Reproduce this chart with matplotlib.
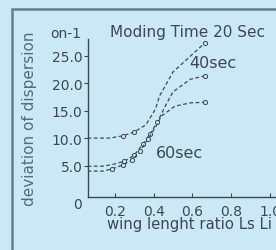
import matplotlib
matplotlib.use("Agg")
import matplotlib.pyplot as plt
from matplotlib.patches import Rectangle

# data
ratio_20 = [0.06, 0.175, 0.24, 0.30, 0.36, 0.41, 0.43, 0.50, 0.59, 0.665]
dev_20 = [10.0, 10.0, 10.4, 11.1, 12.4, 15.3, 17.6, 22.0, 24.9, 27.3]

ratio_40 = [0.06, 0.14, 0.20, 0.25, 0.30, 0.345, 0.38, 0.42, 0.46, 0.50, 0.59, 0.665]
dev_40 = [4.9, 4.9, 5.3, 5.8, 6.9, 8.9, 10.7, 12.9, 15.8, 18.4, 20.7, 21.3]

ratio_60 = [0.06, 0.14, 0.185, 0.24, 0.29, 0.33, 0.37, 0.41, 0.44, 0.51, 0.59, 0.665]
dev_60 = [4.0, 4.0, 4.4, 5.1, 6.0, 7.6, 9.8, 12.0, 14.0, 15.8, 16.4, 16.5]

x_ticks = [0.2, 0.4, 0.6, 0.8, 1.0]
y_ticks = [5, 10, 15, 20, 25]

BG = '#cbe8f7'
INK = '#3b4853'
W, H = 276, 251


def fx(px):
    return px / W


def fy(py):
    return 1 - py / H


plt.rcParams['font.family'] = ['DejaVu Sans']
fig = plt.figure(figsize=(2.76, 2.51), dpi=100, facecolor=BG)

# outer frame
fig.patches.append(Rectangle((fx(12), fy(262)), fx(280) - fx(12), fy(10) - fy(262),
                             transform=fig.transFigure, fill=False,
                             edgecolor='#667e8e', linewidth=1.8))

ax = fig.add_axes([fx(88), fy(198), 1 - fx(88), fy(40) - fy(198)])
ax.patch.set_alpha(0)

line_kw = dict(color=INK, linestyle=(0, (3, 2)), linewidth=0.9,
               marker='o', markersize=3, markerfacecolor=BG,
               markeredgecolor=INK, markeredgewidth=0.7)
ax.plot(ratio_20, dev_20, markevery=[2, 3, 9], **line_kw)
ax.plot(ratio_40, dev_40, markevery=[3, 4, 5, 6, 7, 11], **line_kw)
ax.plot(ratio_60, dev_60, markevery=[2, 3, 4, 5, 6, 11], **line_kw)

ax.set_xlim(0.062, 1.031)
ax.set_ylim(-0.7, 28)
ax.set_xticks(x_ticks)
ax.set_xticklabels([f"{v:.1f}" for v in x_ticks])
ax.set_yticks(y_ticks)
ax.set_yticklabels([f"{v:.1f}" for v in y_ticks])

for s in ['top', 'right']:
    ax.spines[s].set_visible(False)
for s in ['left', 'bottom']:
    ax.spines[s].set_color(INK)
    ax.spines[s].set_linewidth(1.0)

ax.tick_params(axis='y', direction='out', length=3, width=0.8, pad=1,
               colors=INK, labelsize=10)
ax.tick_params(axis='x', direction='in', length=3, width=0.8, pad=5,
               colors=INK, labelsize=10)

txt = dict(color=INK, ha='center', va='center')
fig.text(fx(77), fy(205), '0', fontsize=10, **txt)
fig.text(fx(66), fy(34), 'on-1', fontsize=10, **txt)
fig.text(fx(187), fy(33), 'Moding Time 20 Sec', fontsize=11, **txt)
fig.text(fx(213), fy(63), '40sec', fontsize=11.5, **txt)
fig.text(fx(179), fy(153), '60sec', fontsize=11.5, **txt)
fig.text(fx(189), fy(225), 'wing lenght ratio Ls Li', fontsize=10.7, **txt)
fig.text(fx(30), fy(119), 'deviation of dispersion', rotation=90,
         fontsize=11, color='#566a78', ha='center', va='center')

fig.savefig('out.png', dpi=100, facecolor=BG)
